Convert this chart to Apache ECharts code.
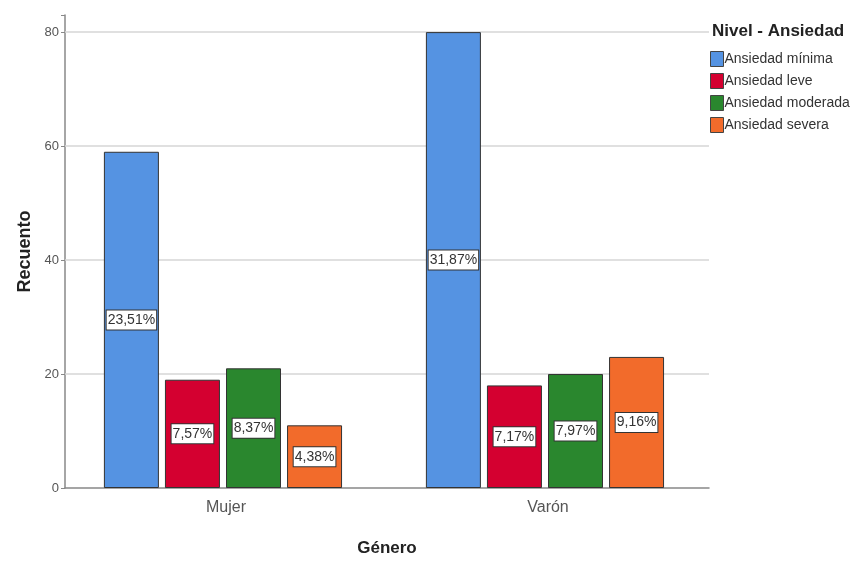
<!DOCTYPE html>
<html><head><meta charset="utf-8">
<script src="https://cdn.jsdelivr.net/npm/echarts@6/dist/echarts.min.js"></script>
<style>html,body{margin:0;padding:0;background:#fff}#c{width:857px;height:563px}</style>
</head><body><div id="c"></div>
<script>
const categories = ['Mujer', 'Varón'];
const seriesNames = ['Ansiedad mínima', 'Ansiedad leve', 'Ansiedad moderada', 'Ansiedad severa'];
const minima = [59, 80];
const leve = [19, 18];
const moderada = [21, 20];
const severa = [11, 23];
const pctMinima = ['23,51%', '31,87%'];
const pctLeve = ['7,57%', '7,17%'];
const pctModerada = ['8,37%', '7,97%'];
const pctSevera = ['4,38%', '9,16%'];
const yTicks = [20, 40, 60, 80];
const colors = ['#5593e2', '#d40030', '#2a872e', '#f26b2b'];

const values = [minima, leve, moderada, severa];
const pcts = [pctMinima, pctLeve, pctModerada, pctSevera];
const font = 'Liberation Sans, Arial, sans-serif';

const series = seriesNames.map((n, i) => ({
  name: n, type: 'bar', z: 3,
  data: values[i],
  barWidth: 55, barGap: '11%',
  itemStyle: { color: colors[i], borderColor: '#333', borderWidth: 1 },
  label: {
    show: true, position: 'inside',
    formatter: p => pcts[i][p.dataIndex],
    color: '#333', fontFamily: font, fontSize: 14,
    backgroundColor: '#fff', borderColor: '#333', borderWidth: 1,
    padding: [3, 1, 2, 1]
  }
}));
series.push({
  name: '_grid', type: 'bar', data: [], z: 1, silent: true,
  markLine: {
    z: 1, zlevel: 0,
    symbol: 'none', silent: true, label: { show: false },
    lineStyle: { color: '#d6d6d6', type: 'solid', width: 1.5 },
    data: yTicks.map(v => ({ yAxis: v }))
  }
});

const chart = echarts.init(document.getElementById('c'));
chart.setOption({
  animation: false,
  backgroundColor: '#fff',
  title: {
    text: 'Nivel - Ansiedad', left: 707, top: 18,
    textStyle: { fontFamily: font, fontSize: 17, fontWeight: 'bold', color: '#222' }
  },
  legend: {
    data: seriesNames, orient: 'vertical', left: 705, top: 46,
    itemWidth: 13, itemHeight: 15, itemGap: 6, icon: 'rect',
    itemStyle: { borderColor: '#444', borderWidth: 1 },
    textStyle: { fontFamily: font, fontSize: 14, color: '#333', padding: [0, 0, 0, -4] }
  },
  grid: { left: 65, right: 148, top: 15, bottom: 75 },
  xAxis: {
    type: 'category', data: categories,
    name: 'Género', nameLocation: 'middle', nameGap: 52,
    nameTextStyle: { fontFamily: font, fontSize: 17, fontWeight: 'bold', color: '#222' },
    axisLine: { lineStyle: { color: '#888', width: 1.5 } },
    axisTick: { show: false },
    axisLabel: { fontFamily: font, fontSize: 16, color: '#555', margin: 12 }
  },
  yAxis: {
    type: 'value', min: 0, max: 83, interval: 20,
    name: 'Recuento', nameLocation: 'middle', nameGap: 30,
    nameTextStyle: { fontFamily: font, fontSize: 18, fontWeight: 'bold', color: '#222' },
    axisLine: { show: true, lineStyle: { color: '#888', width: 1.5 } },
    axisTick: { show: true, length: 4, lineStyle: { color: '#888' } },
    splitLine: { show: false },
    axisLabel: {
      fontFamily: font, fontSize: 13, color: '#555', margin: 6,
      formatter: v => (v % 20 === 0 ? String(v) : '')
    }
  },
  series: series
});
</script>
</body></html>
